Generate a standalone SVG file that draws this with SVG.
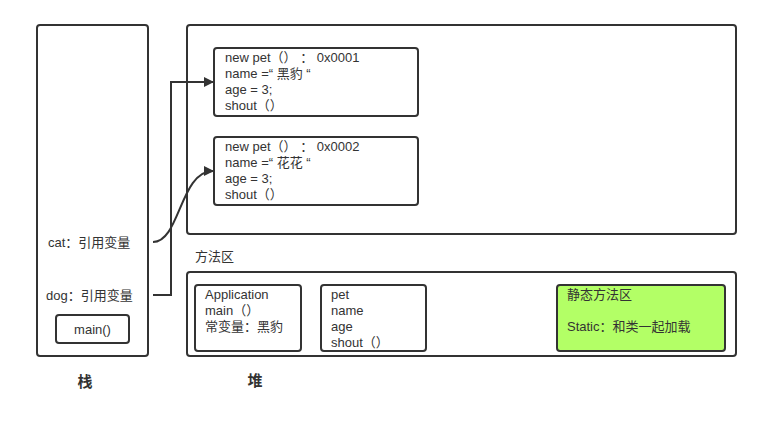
<svg xmlns="http://www.w3.org/2000/svg" width="761" height="423" viewBox="0 0 761 423">
<defs>
<style>
.b{fill:#fff;stroke:#333;stroke-width:2}
.t{font-family:"Liberation Sans","Noto Sans CJK SC",sans-serif;font-size:13px;fill:#333}
.h{font-family:"Noto Sans CJK SC",sans-serif;font-size:15px;font-weight:bold;fill:#333}
.c{fill:none;stroke:#333;stroke-width:2}
</style>
<marker id="ar" markerWidth="10" markerHeight="10" refX="9" refY="5" orient="auto" markerUnits="userSpaceOnUse">
<path d="M0,0 L10,5 L0,10 Z" fill="#333"/>
</marker>
</defs>
<rect width="761" height="423" fill="#fff"/>
<g id="stack">
<rect class="b" x="37" y="25" width="111" height="331" rx="3"/>
<text class="t" x="48" y="247">cat：引用变量</text>
<text class="t" x="46" y="300">dog：引用变量</text>
</g>
<g id="main">
<rect class="b" x="56" y="315" width="73" height="28" rx="3"/>
<text class="t" x="92.5" y="334" text-anchor="middle">main()</text>
</g>
<g id="heap">
<rect class="b" x="187" y="25" width="549" height="209" rx="3"/>
</g>
<g id="pet1">
<rect class="b" x="214" y="48" width="204" height="68" rx="3"/>
<text class="t" x="225" y="62">new pet（） ：  0x0001</text>
<text class="t" x="225" y="78">name =“  黑豹  “</text>
<text class="t" x="225" y="94">age = 3;</text>
<text class="t" x="225" y="110">shout（）</text>
</g>
<g id="pet2">
<rect class="b" x="214" y="137" width="204" height="68" rx="3"/>
<text class="t" x="225" y="151">new pet（） ：  0x0002</text>
<text class="t" x="225" y="167">name =“  花花  “</text>
<text class="t" x="225" y="183">age = 3;</text>
<text class="t" x="225" y="199">shout（）</text>
</g>
<g id="methodArea">
<text class="t" x="195" y="261">方法区</text>
<rect class="b" x="187" y="272" width="549" height="84" rx="3"/>
</g>
<g id="application">
<rect class="b" x="195" y="285" width="106" height="66" rx="3"/>
<text class="t" x="205" y="299">Application</text>
<text class="t" x="205" y="315">main（）</text>
<text class="t" x="205" y="331">常变量：黑豹</text>
</g>
<g id="petClass">
<rect class="b" x="321" y="285" width="105" height="66" rx="3"/>
<text class="t" x="331" y="299">pet</text>
<text class="t" x="331" y="315">name</text>
<text class="t" x="331" y="331">age</text>
<text class="t" x="331" y="347">shout（）</text>
</g>
<g id="static">
<rect x="557" y="285" width="168" height="66" rx="3" fill="#b3ff66" stroke="#333" stroke-width="2"/>
<text class="t" x="567" y="299">静态方法区</text>
<text class="t" x="567" y="331">Static：和类一起加载</text>
</g>
<g id="labels">
<text class="h" x="85" y="387" text-anchor="middle">栈</text>
<text class="h" x="255" y="386" text-anchor="middle">堆</text>
</g>
<g id="connectors">
<path class="c" d="M153,295 L171,295 L171,82 L213,82" marker-end="url(#ar)"/>
<path class="c" d="M153,242 C180,242 180,171 213,171" marker-end="url(#ar)"/>
</g>
</svg>
